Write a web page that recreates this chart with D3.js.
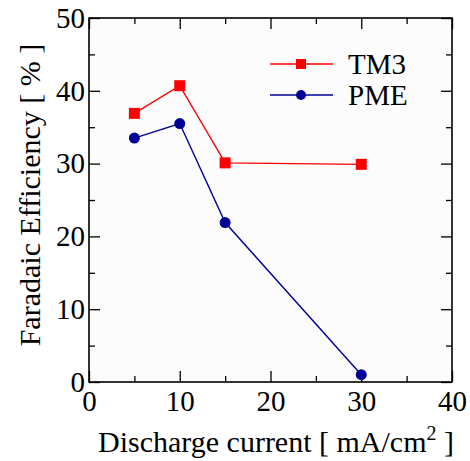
<!DOCTYPE html>
<html><head><meta charset="utf-8">
<script src="https://cdn.jsdelivr.net/npm/d3@7"></script>
</head><body style="margin:0;background:#fff">
<svg id="c" width="470" height="461" style="font-family:'Liberation Serif'"></svg>
<script>
const currents = [5, 10, 15, 30];
const tm3 = [36.9, 40.7, 30.1, 29.9];
const pme = [33.5, 35.5, 21.9, 1.0];
const seriesNames = ["TM3", "PME"];
const xMajorTicks = [0, 10, 20, 30, 40];
const xMinorTicks = [5, 15, 25, 35];
const yMajorTicks = [0, 10, 20, 30, 40, 50];
const yMinorTicks = [5, 15, 25, 35, 45];

const L = 89, R = 452, T = 18, B = 382;
const FONT = '"Liberation Serif"';
const svg = d3.select("#c");
const x = d3.scaleLinear().domain([0, 40]).range([L, R]);
const y = d3.scaleLinear().domain([0, 50]).range([B, T]);

svg.append("rect").attr("x", L).attr("y", T).attr("width", R - L).attr("height", B - T)
  .attr("fill", "#fcfcfc");

function styleAxis(g) {
  g.attr("font-family", null).style("font-family", FONT);
  g.selectAll(".domain").remove();
  g.selectAll(".tick line").attr("stroke", "#000").attr("stroke-width", 1.3);
  g.selectAll("text").style("font-family", FONT).attr("font-size", 29).attr("fill", "#000");
}
svg.append("g").attr("transform", `translate(0,${B})`)
  .call(d3.axisBottom(x).tickValues(xMajorTicks).tickSize(-11).tickPadding(8).tickFormat(d3.format("d")))
  .call(styleAxis);
svg.append("g").attr("transform", `translate(${L},0)`)
  .call(d3.axisLeft(y).tickValues(yMajorTicks).tickSize(-11).tickPadding(4).tickFormat(d3.format("d")))
  .call(styleAxis);
svg.append("g").attr("transform", `translate(0,${T})`)
  .call(d3.axisTop(x).tickValues(xMajorTicks).tickSize(-11).tickFormat(""))
  .call(styleAxis);
svg.append("g").attr("transform", `translate(${R},0)`)
  .call(d3.axisRight(y).tickValues(yMajorTicks).tickSize(-11).tickFormat(""))
  .call(styleAxis);
svg.append("g").attr("transform", `translate(0,${B})`)
  .call(d3.axisBottom(x).tickValues(xMinorTicks).tickSize(-6).tickFormat("")).call(styleAxis);
svg.append("g").attr("transform", `translate(0,${T})`)
  .call(d3.axisTop(x).tickValues(xMinorTicks).tickSize(-6).tickFormat("")).call(styleAxis);
svg.append("g").attr("transform", `translate(${L},0)`)
  .call(d3.axisLeft(y).tickValues(yMinorTicks).tickSize(-6).tickFormat("")).call(styleAxis);
svg.append("g").attr("transform", `translate(${R},0)`)
  .call(d3.axisRight(y).tickValues(yMinorTicks).tickSize(-6).tickFormat("")).call(styleAxis);

svg.append("rect").attr("x", L).attr("y", T).attr("width", R - L).attr("height", B - T)
  .attr("fill", "none").attr("stroke", "#000").attr("stroke-width", 1.6);

const line = d3.line().x(d => x(d[0])).y(d => y(d[1]));
const tmData = currents.map((c, i) => [c, tm3[i]]);
const pmData = currents.map((c, i) => [c, pme[i]]);
const red = "#ff0000", blue = "#000099";

svg.append("path").attr("d", line(pmData)).attr("fill", "none").attr("stroke", blue).attr("stroke-width", 1.4);
svg.append("path").attr("d", line(tmData)).attr("fill", "none").attr("stroke", red).attr("stroke-width", 1.4);
svg.selectAll(".pm").data(pmData).enter().append("circle")
  .attr("cx", d => x(d[0])).attr("cy", d => y(d[1])).attr("r", 5.5).attr("fill", blue);
svg.selectAll(".tm").data(tmData).enter().append("rect")
  .attr("x", d => x(d[0]) - 5.5).attr("y", d => y(d[1]) - 5.5).attr("width", 11).attr("height", 11).attr("fill", red);

const lg = svg.append("g");
const rows = [{name: seriesNames[0], color: red, shape: "sq", yy: 64}, {name: seriesNames[1], color: blue, shape: "ci", yy: 95}];
rows.forEach(r => {
  lg.append("line").attr("x1", 270).attr("x2", 333).attr("y1", r.yy).attr("y2", r.yy)
    .attr("stroke", r.color).attr("stroke-width", 1.4);
  if (r.shape === "sq") lg.append("rect").attr("x", 301 - 5).attr("y", r.yy - 5).attr("width", 10).attr("height", 10).attr("fill", r.color);
  else lg.append("circle").attr("cx", 301).attr("cy", r.yy).attr("r", 5).attr("fill", r.color);
  lg.append("text").attr("x", 348).attr("y", r.yy + 10).attr("font-size", 29).style("font-family", FONT)
    .attr("fill", "#000").text(r.name);
});

const xt = svg.append("text").attr("x", 276).attr("y", 452).attr("text-anchor", "middle")
  .attr("font-size", 30).style("font-family", FONT).attr("fill", "#000");
xt.append("tspan").text("Discharge current [ mA/cm");
xt.append("tspan").attr("font-size", 20).attr("dy", -12).text("2");
xt.append("tspan").attr("dy", 12).text(" ]");

svg.append("text").attr("transform", "translate(40,195) rotate(-90)").attr("text-anchor", "middle")
  .attr("font-size", 30).style("font-family", FONT).attr("fill", "#000").text("Faradaic Efficiency [ % ]");
</script>
</body></html>
